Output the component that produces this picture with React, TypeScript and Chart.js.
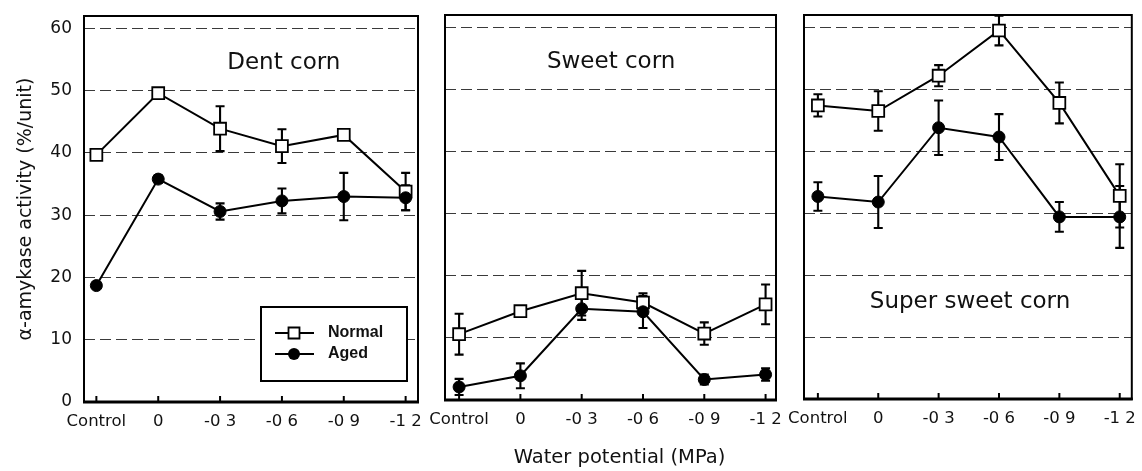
import React, { useEffect, useRef } from "react";
import { Chart, registerables } from "chart.js";

Chart.register(...registerables);

// ---------- data ----------
const categories = ["Control", "0", "-0 3", "-0 6", "-0 9", "-1 2"];
const yTickValues = [0, 10, 20, 30, 40, 50, 60];
const seriesLabels = ["Normal", "Aged"];
const panelTitles = ["Dent corn", "Sweet corn", "Super sweet corn"];
const yAxisTitle = "α-amykase activity (%/unit)";
const xAxisTitle = "Water potential (MPa)";

const dentNormal = [39.7, 49.6, 43.9, 41.1, 42.9, 33.8];
const dentNormalErr = [0, 0.7, 3.6, 2.7, 0, 3.0];
const dentAged = [18.7, 35.8, 30.6, 32.3, 33.0, 32.8];
const dentAgedErr = [0, 0.6, 1.3, 2.0, 3.8, 2.0];

const sweetNormal = [10.6, 14.3, 17.2, 15.7, 10.7, 15.4];
const sweetNormalErr = [3.3, 0, 3.6, 1.5, 1.8, 3.2];
const sweetAged = [2.1, 3.9, 14.7, 14.2, 3.3, 4.1];
const sweetAgedErr = [1.3, 2.0, 1.8, 2.6, 0.8, 1.0];

const superNormal = [47.4, 46.5, 52.2, 59.5, 47.8, 32.8];
const superNormalErr = [1.8, 3.2, 1.7, 2.4, 3.3, 5.1];
const superAged = [32.7, 31.8, 43.8, 42.3, 29.4, 29.4];
const superAgedErr = [2.3, 4.2, 4.4, 3.7, 2.4, 5.0];

// ---------- layout / style ----------
const W = 1142;
const H = 471;
const FONT = "'DejaVu Sans', sans-serif";
const INK = "#111";

type PanelCfg = {
  title: string;
  normal: number[];
  normalErr: number[];
  aged: number[];
  agedErr: number[];
  area: { left: number; right: number; top: number; bottom: number };
  xRange: [number, number];
  showY: boolean;
  titleAt: { x: number; y: number };
  legend: boolean;
  xTitle: boolean;
};

const panels: PanelCfg[] = [
  {
    title: panelTitles[0],
    normal: dentNormal,
    normalErr: dentNormalErr,
    aged: dentAged,
    agedErr: dentAgedErr,
    area: { left: 84, right: 418, top: 16, bottom: 402 },
    xRange: [-0.2, 5.2],
    showY: true,
    titleAt: { x: 3.03, y: 54.5 },
    legend: true,
    xTitle: false,
  },
  {
    title: panelTitles[1],
    normal: sweetNormal,
    normalErr: sweetNormalErr,
    aged: sweetAged,
    agedErr: sweetAgedErr,
    area: { left: 445, right: 776, top: 15, bottom: 400 },
    xRange: [-0.23, 5.17],
    showY: false,
    titleAt: { x: 2.48, y: 54.4 },
    legend: false,
    xTitle: true,
  },
  {
    title: panelTitles[2],
    normal: superNormal,
    normalErr: superNormalErr,
    aged: superAged,
    agedErr: superAgedErr,
    area: { left: 804, right: 1137, top: 15, bottom: 399 },
    xRange: [-0.23, 5.2],
    showY: false,
    titleAt: { x: 2.52, y: 15.7 },
    legend: false,
    xTitle: false,
  },
];

function drawSquare(ctx: CanvasRenderingContext2D, x: number, y: number, s: number) {
  ctx.beginPath();
  ctx.rect(x - s / 2, y - s / 2, s, s);
  ctx.fillStyle = "#fff";
  ctx.fill();
  ctx.lineWidth = 1.8;
  ctx.strokeStyle = "#000";
  ctx.stroke();
}

function drawDot(ctx: CanvasRenderingContext2D, x: number, y: number, r: number) {
  ctx.beginPath();
  ctx.arc(x, y, r, 0, Math.PI * 2);
  ctx.fillStyle = "#000";
  ctx.fill();
}

function makePlugin(p: PanelCfg) {
  return {
    id: "panelDecor",
    beforeDatasetsDraw(chart: any) {
      const ctx: CanvasRenderingContext2D = chart.ctx;
      const xs = chart.scales.x;
      const ys = chart.scales.y;
      ctx.save();
      ctx.strokeStyle = "#000";
      ctx.lineWidth = 2.1;
      chart.data.datasets.forEach((ds: any) => {
        const errs: number[] = ds.errors || [];
        ds.data.forEach((pt: any, i: number) => {
          const e = errs[i];
          if (!e) return;
          const x = xs.getPixelForValue(pt.x);
          const y1 = ys.getPixelForValue(pt.y + e);
          const y2 = ys.getPixelForValue(pt.y - e);
          ctx.beginPath();
          ctx.moveTo(x, y1);
          ctx.lineTo(x, y2);
          ctx.moveTo(x - 4.5, y1);
          ctx.lineTo(x + 4.5, y1);
          ctx.moveTo(x - 4.5, y2);
          ctx.lineTo(x + 4.5, y2);
          ctx.stroke();
        });
      });
      ctx.restore();
    },
    afterDatasetsDraw(chart: any) {
      const ctx: CanvasRenderingContext2D = chart.ctx;
      const a = chart.chartArea;
      const xs = chart.scales.x;
      const ys = chart.scales.y;
      ctx.save();
      // frame
      ctx.strokeStyle = "#000";
      ctx.lineWidth = 2;
      ctx.strokeRect(a.left, a.top, a.right - a.left, a.bottom - a.top);
      ctx.lineWidth = 3;
      ctx.beginPath();
      ctx.moveTo(a.left - 1, a.bottom);
      ctx.lineTo(a.right + 1, a.bottom);
      ctx.stroke();
      // inner x ticks
      ctx.lineWidth = 2;
      categories.forEach((_, i) => {
        const x = xs.getPixelForValue(i);
        ctx.beginPath();
        ctx.moveTo(x, a.bottom);
        ctx.lineTo(x, a.bottom - 6);
        ctx.stroke();
      });
      // panel title
      ctx.fillStyle = INK;
      ctx.font = `23px ${FONT}`;
      ctx.textAlign = "center";
      ctx.textBaseline = "middle";
      ctx.fillText(p.title, xs.getPixelForValue(p.titleAt.x), ys.getPixelForValue(p.titleAt.y));
      // x axis title
      if (p.xTitle) {
        ctx.font = `19.5px ${FONT}`;
        ctx.fillText(xAxisTitle, (a.left + a.right) / 2 + 9, a.bottom + 58);
      }
      // legend
      if (p.legend) {
        const bx = a.left + 177;
        const by = a.top + 291;
        const bw = 146;
        const bh = 74;
        ctx.fillStyle = "#fff";
        ctx.fillRect(bx, by, bw, bh);
        ctx.strokeStyle = "#000";
        ctx.lineWidth = 2;
        ctx.strokeRect(bx, by, bw, bh);
        ctx.font = `bold 16px 'Liberation Sans', Arial, sans-serif`;
        ctx.textAlign = "left";
        ctx.textBaseline = "middle";
        seriesLabels.forEach((lab, k) => {
          const ly = by + 26 + k * 21;
          ctx.strokeStyle = "#000";
          ctx.lineWidth = 2;
          ctx.beginPath();
          ctx.moveTo(bx + 14, ly);
          ctx.lineTo(bx + 53, ly);
          ctx.stroke();
          if (k === 0) drawSquare(ctx, bx + 33, ly, 11);
          else drawDot(ctx, bx + 33, ly, 6);
          ctx.fillStyle = INK;
          ctx.fillText(lab, bx + 67, ly);
        });
      }
      ctx.restore();
    },
  };
}

function Panel({ p }: { p: PanelCfg }) {
  const ref = useRef<HTMLCanvasElement | null>(null);
  useEffect(() => {
    if (!ref.current) return;
    const yWidth = p.showY ? p.area.left : 40;
    const chart = new Chart(ref.current, {
      type: "line",
      data: {
        datasets: [
          {
            label: seriesLabels[0],
            data: p.normal.map((v, i) => ({ x: i, y: v })),
            borderColor: "#000",
            borderWidth: 2,
            pointStyle: "rect",
            pointRadius: 8.4,
            pointBackgroundColor: "#fff",
            pointBorderColor: "#000",
            pointBorderWidth: 1.8,
            order: 1,
            errors: p.normalErr,
          } as any,
          {
            label: seriesLabels[1],
            data: p.aged.map((v, i) => ({ x: i, y: v })),
            borderColor: "#000",
            borderWidth: 2,
            pointStyle: "circle",
            pointRadius: 6,
            pointBackgroundColor: "#000",
            pointBorderColor: "#000",
            pointBorderWidth: 1,
            order: 0,
            errors: p.agedErr,
          } as any,
        ],
      },
      options: {
        responsive: false,
        animation: false,
        devicePixelRatio: 1,
        events: [],
        layout: {
          padding: {
            left: p.area.left - yWidth,
            right: W - p.area.right,
            top: p.area.top,
            bottom: 0,
          },
        },
        plugins: {
          legend: { display: false },
          tooltip: { enabled: false },
          title: { display: false },
        },
        scales: {
          x: {
            type: "linear",
            min: p.xRange[0],
            max: p.xRange[1],
            grid: { display: false, drawTicks: false },
            border: { display: false },
            afterBuildTicks: (s: any) => {
              s.ticks = categories.map((_, i) => ({ value: i }));
            },
            ticks: {
              autoSkip: false,
              maxRotation: 0,
              padding: 10,
              color: INK,
              font: { family: FONT, size: 16.5 },
              callback: (_v: any, i: number) => categories[i],
            },
            afterFit: (s: any) => {
              s.height = H - p.area.bottom;
              s.paddingLeft = 0;
              s.paddingRight = 0;
            },
          },
          y: {
            type: "linear",
            min: 0,
            max: 62,
            afterBuildTicks: (s: any) => {
              s.ticks = yTickValues.map((v) => ({ value: v }));
            },
            grid: {
              drawTicks: false,
              lineWidth: 1,
              color: (c: any) => (c.tick && c.tick.value === 0 ? "rgba(0,0,0,0)" : "#3a3a3a"),
              borderDash: [11, 5],
            } as any,
            border: { display: false, dash: [11, 5] },
            ticks: {
              display: p.showY,
              padding: 12,
              color: INK,
              font: { family: FONT, size: 17 },
            },
            title: {
              display: p.showY,
              text: yAxisTitle,
              color: INK,
              font: { family: FONT, size: 19 },
              padding: { top: 14.6, bottom: 0 },
            },
            afterFit: (s: any) => {
              s.width = yWidth;
              s.paddingTop = 0;
              s.paddingBottom = 0;
            },
          },
        },
      } as any,
      plugins: [makePlugin(p)],
    });
    return () => chart.destroy();
  }, [p]);
  return (
    <canvas
      ref={ref}
      width={W}
      height={H}
      style={{ position: "absolute", left: 0, top: 0, width: W, height: H, display: "block" }}
    />
  );
}

export default function App() {
  return (
    <div
      style={{
        position: "absolute",
        left: 0,
        top: 0,
        width: W,
        height: H,
        background: "#fff",
        overflow: "hidden",
      }}
    >
      {panels.map((p, i) => (
        <Panel key={i} p={p} />
      ))}
    </div>
  );
}
